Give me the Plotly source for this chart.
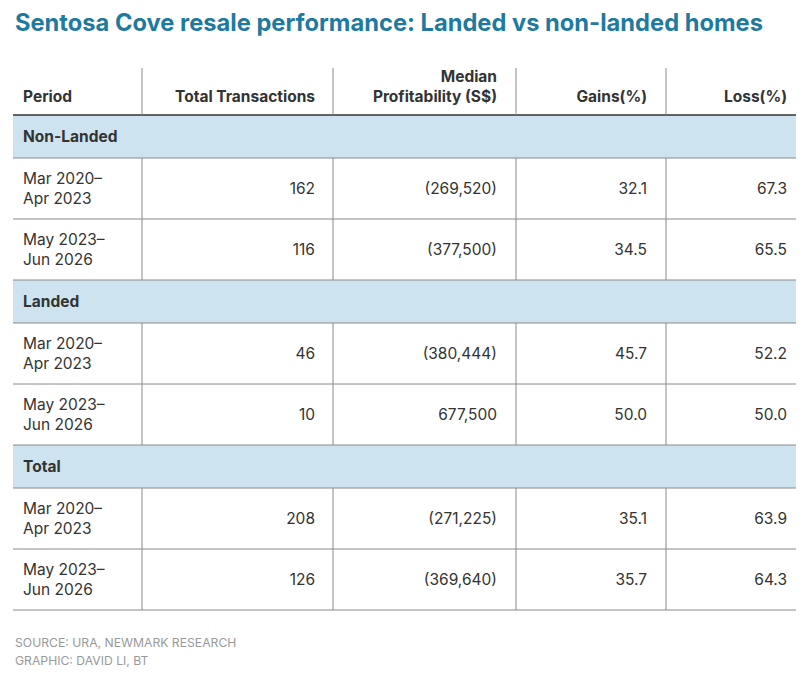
import plotly.graph_objects as go

# Data tabel
segments = ["Non-Landed", "Landed", "Total"]
periods = ["Mar 2020–<br>Apr 2023", "May 2023–<br>Jun 2026"]
columns = ["Period", "Total Transactions", "Median<br>Profitability (S$)", "Gains(%)", "Loss(%)"]
total_transactions = [162, 116, 46, 10, 208, 126]
median_profit = [-269520, -377500, -380444, 677500, -271225, -369640]
gains = [32.1, 34.5, 45.7, 50.0, 35.1, 35.7]
loss = [67.3, 65.5, 52.2, 50.0, 63.9, 64.3]

# Tata letak (piksel halaman); body html punya margin 8px
W, H = 809, 676
OFF = 8
col_edges = [13, 142, 333, 516, 666, 796]
text_right = [315, 497, 647, 787]  # ujung kanan teks kolom angka
text_left = 23
header_top, header_h = 68, 47
section_h, row_h = 43, 61
NUDGE = 2  # geser teks sedikit ke bawah agar tampak di tengah

FONT = "Inter"
TXT = "#333333"
LINE = "#8a8a8a"
FILL = "#cde4f0"
FS = 15.5


def fmt_money(v):
    return f"({abs(v):,})" if v < 0 else f"{v:,}"


fig = go.Figure()
shapes = []

# Hitung posisi baris
y = header_top + header_h
sec_y, row_y = [], []
for s in segments:
    sec_y.append(y)
    y += section_h
    for p in periods:
        row_y.append(y)
        y += row_h

# Header
hy = header_top + header_h - 9
fig.add_trace(go.Scatter(
    x=[text_left], y=[hy], mode="text",
    text=["<b>" + columns[0] + "</b>"], textposition="top right",
    textfont=dict(family=FONT, size=FS, color=TXT), hoverinfo="skip"))
fig.add_trace(go.Scatter(
    x=text_right, y=[hy] * 4, mode="text",
    text=["<b>" + c + "</b>" for c in columns[1:]], textposition="top left",
    textfont=dict(family=FONT, size=FS, color=TXT), hoverinfo="skip"))

# Baris seksi (isian biru)
for sy in sec_y:
    shapes.append(dict(type="rect", xref="x", yref="y", x0=col_edges[0], x1=col_edges[-1],
                       y0=sy, y1=sy + section_h, fillcolor=FILL, line=dict(width=0), layer="below"))
fig.add_trace(go.Scatter(
    x=[text_left] * len(segments), y=[sy + section_h / 2 + NUDGE for sy in sec_y], mode="text",
    text=["<b>" + s + "</b>" for s in segments], textposition="middle right",
    textfont=dict(family=FONT, size=FS, color=TXT), hoverinfo="skip"))

# Baris data
mid = [ry + row_h / 2 + NUDGE for ry in row_y]
fig.add_trace(go.Scatter(
    x=[text_left] * len(row_y), y=mid, mode="text",
    text=periods * len(segments), textposition="middle right",
    textfont=dict(family=FONT, size=FS, color=TXT), hoverinfo="skip"))
values = [
    [str(v) for v in total_transactions],
    [fmt_money(v) for v in median_profit],
    [f"{v:.1f}" for v in gains],
    [f"{v:.1f}" for v in loss],
]
for xr, vals in zip(text_right, values):
    fig.add_trace(go.Scatter(
        x=[xr] * len(vals), y=mid, mode="text", text=vals, textposition="middle left",
        textfont=dict(family=FONT, size=FS, color=TXT), hoverinfo="skip"))

# Garis
shapes.append(dict(type="line", xref="x", yref="y", x0=col_edges[0], x1=col_edges[-1],
                   y0=header_top + header_h, y1=header_top + header_h,
                   line=dict(color="#333333", width=1.5)))
for sy in sec_y:
    shapes.append(dict(type="line", xref="x", yref="y", x0=col_edges[0], x1=col_edges[-1],
                       y0=sy + section_h, y1=sy + section_h, line=dict(color=LINE, width=1)))
for ry in row_y:
    shapes.append(dict(type="line", xref="x", yref="y", x0=col_edges[0], x1=col_edges[-1],
                       y0=ry + row_h, y1=ry + row_h, line=dict(color=LINE, width=1)))
    for xe in col_edges[1:-1]:
        shapes.append(dict(type="line", xref="x", yref="y", x0=xe, x1=xe,
                           y0=ry, y1=ry + row_h, line=dict(color=LINE, width=1)))
for xe in col_edges[1:-1]:
    shapes.append(dict(type="line", xref="x", yref="y", x0=xe, x1=xe,
                       y0=header_top, y1=header_top + header_h, line=dict(color=LINE, width=1)))

annotations = [
    dict(x=13, y=22, xref="x", yref="y", xanchor="left", yanchor="middle", showarrow=False,
         text="<b>Sentosa Cove resale performance: Landed vs non-landed homes</b>",
         font=dict(family=FONT, size=23.7, color="#1f7aa0")),
    dict(x=13, y=642, xref="x", yref="y", xanchor="left", yanchor="middle", showarrow=False,
         text="SOURCE: URA, NEWMARK RESEARCH", font=dict(family=FONT, size=12.2, color="#999999")),
    dict(x=13, y=660, xref="x", yref="y", xanchor="left", yanchor="middle", showarrow=False,
         text="GRAPHIC: DAVID LI, BT", font=dict(family=FONT, size=12.2, color="#999999")),
]

fig.update_layout(
    width=W - OFF, height=H - OFF,
    margin=dict(l=0, r=0, t=0, b=0),
    paper_bgcolor="white", plot_bgcolor="white",
    showlegend=False,
    xaxis=dict(range=[OFF, W], visible=False, fixedrange=True),
    yaxis=dict(range=[H, OFF], visible=False, fixedrange=True),
    shapes=shapes,
    annotations=annotations,
)

fig.write_html("out.html")
